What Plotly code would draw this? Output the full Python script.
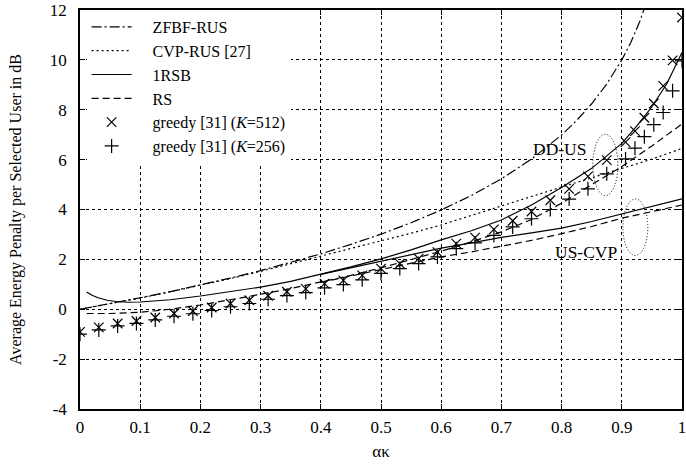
import plotly.graph_objects as go

# ---------------- data ----------------
zfbf_x = [0, 0.05, 0.1, 0.15, 0.2, 0.25, 0.3, 0.35, 0.4, 0.45, 0.5, 0.55, 0.6, 0.65,
          0.7, 0.75, 0.8, 0.825, 0.85, 0.875, 0.9, 0.915, 0.93, 0.945]
zfbf_y = [0, 0.22, 0.46, 0.71, 0.97, 1.25, 1.55, 1.87, 2.22, 2.6, 3.01, 3.47, 3.98, 4.56,
          5.23, 6.02, 6.99, 7.57, 8.24, 9.03, 10.0, 10.7, 11.55, 12.6]

cvp_x = [0, 0.05, 0.1, 0.15, 0.2, 0.25, 0.3, 0.35, 0.4, 0.45, 0.5, 0.55, 0.6, 0.65,
         0.7, 0.75, 0.8, 0.85, 0.9, 0.95, 1.0]
cvp_y = [0, 0.22, 0.45, 0.7, 0.96, 1.23, 1.52, 1.82, 2.12, 2.43, 2.75, 3.05, 3.38, 3.75,
         4.13, 4.52, 4.9, 5.27, 5.63, 6.02, 6.45]

rsb_dd_x = [0.011, 0.02, 0.03, 0.045, 0.06, 0.08, 0.1, 0.15, 0.2, 0.25, 0.3, 0.35, 0.4,
            0.45, 0.5, 0.55, 0.6, 0.65, 0.7, 0.75, 0.8, 0.85, 0.875, 0.9, 0.925, 0.95,
            0.975, 1.0]
rsb_dd_y = [0.69, 0.56, 0.46, 0.36, 0.31, 0.28, 0.29, 0.38, 0.53, 0.7, 0.89, 1.12, 1.4,
            1.7, 2.02, 2.38, 2.78, 3.15, 3.58, 4.18, 4.88, 5.65, 6.15, 6.65, 7.35, 8.12,
            9.05, 10.3]

rsb_us_x = [0.4, 0.45, 0.5, 0.55, 0.6, 0.65, 0.7, 0.75, 0.8, 0.85, 0.9, 0.95, 1.0]
rsb_us_y = [1.4, 1.66, 1.93, 2.2, 2.45, 2.66, 2.88, 3.06, 3.25, 3.52, 3.82, 4.12, 4.43]

rs_dd_x = [0.011, 0.05, 0.1, 0.15, 0.2, 0.25, 0.3, 0.35, 0.4, 0.45, 0.5, 0.55, 0.6, 0.65,
           0.7, 0.75, 0.8, 0.85, 0.9, 0.95, 1.0]
rs_dd_y = [-0.17, -0.17, -0.12, 0.0, 0.17, 0.37, 0.6, 0.83, 1.08, 1.36, 1.66, 1.98, 2.33,
           2.7, 3.1, 3.6, 4.25, 5.0, 5.72, 6.55, 7.43]

rs_us_x = [0.4, 0.45, 0.5, 0.55, 0.6, 0.65, 0.7, 0.75, 0.8, 0.85, 0.9, 0.95, 1.0]
rs_us_y = [1.08, 1.34, 1.6, 1.85, 2.1, 2.3, 2.52, 2.76, 3.03, 3.32, 3.65, 3.92, 4.18]

greedy_x = [0, 0.03125, 0.0625, 0.09375, 0.125, 0.15625, 0.1875, 0.21875, 0.25,
            0.28125, 0.3125, 0.34375, 0.375, 0.40625, 0.4375, 0.46875, 0.5, 0.53125,
            0.5625, 0.59375, 0.625, 0.65625, 0.6875, 0.71875, 0.75, 0.78125, 0.8125,
            0.84375, 0.875, 0.90625, 0.921875, 0.9375, 0.953125, 0.96875, 0.984375, 1.0]
greedy512_y = [-0.91, -0.73, -0.57, -0.47, -0.33, -0.17, -0.07, 0.07, 0.23, 0.36, 0.54,
               0.7, 0.82, 1.03, 1.16, 1.36, 1.63, 1.83, 2.03, 2.29, 2.63, 2.87, 3.2, 3.55,
               3.92, 4.37, 4.83, 5.33, 5.98, 6.7, 7.14, 7.68, 8.25, 8.96, 9.98, 11.7]
greedy256_y = [-1.0, -0.83, -0.67, -0.57, -0.43, -0.28, -0.18, -0.05, 0.1, 0.23, 0.4,
               0.55, 0.67, 0.86, 0.99, 1.18, 1.44, 1.63, 1.83, 2.1, 2.43, 2.66, 2.96, 3.3,
               3.63, 4.0, 4.42, 4.83, 5.43, 6.03, 6.46, 6.92, 7.4, 7.89, 8.76, 9.96]

x_ticks = [0, 0.1, 0.2, 0.3, 0.4, 0.5, 0.6, 0.7, 0.8, 0.9, 1]
x_tick_text = ["0", "0.1", "0.2", "0.3", "0.4", "0.5", "0.6", "0.7", "0.8", "0.9", "1"]
y_ticks = [-4, -2, 0, 2, 4, 6, 8, 10, 12]
y_tick_text = ["-4", "-2", "0", "2", "4", "6", "8", "10", "12"]

# ---------------- figure ----------------
FONT = "Liberation Serif, Times New Roman, serif"
LW = 1.2
PAD = "\u00a0\u00a0\u00a0\u00a0"
fig = go.Figure()

fig.add_trace(go.Scatter(x=zfbf_x, y=zfbf_y, mode="lines", name=PAD + "ZFBF-RUS",
                         line=dict(color="black", width=LW, dash="10px,3px,2px,3px")))
fig.add_trace(go.Scatter(x=cvp_x, y=cvp_y, mode="lines", name=PAD + "CVP-RUS [27]",
                         line=dict(color="black", width=LW, dash="2px,3px")))
fig.add_trace(go.Scatter(x=rsb_dd_x, y=rsb_dd_y, mode="lines", name=PAD + "1RSB",
                         legendgroup="rsb", line=dict(color="black", width=LW)))
fig.add_trace(go.Scatter(x=rs_dd_x, y=rs_dd_y, mode="lines", name=PAD + "RS",
                         legendgroup="rs",
                         line=dict(color="black", width=LW, dash="7px,4px")))
fig.add_trace(go.Scatter(x=greedy_x, y=greedy512_y, mode="markers",
                         name=PAD + "greedy [31] (<i>K</i>=512)",
                         marker=dict(symbol="x-thin", size=9.5, color="black",
                                     line=dict(color="black", width=1.2))))
fig.add_trace(go.Scatter(x=greedy_x, y=greedy256_y, mode="markers",
                         name=PAD + "greedy [31] (<i>K</i>=256)",
                         marker=dict(symbol="cross-thin", size=10, color="black",
                                     line=dict(color="black", width=1.2))))
fig.add_trace(go.Scatter(x=rsb_us_x, y=rsb_us_y, mode="lines", name="1RSB",
                         legendgroup="rsb", showlegend=False,
                         line=dict(color="black", width=LW)))
fig.add_trace(go.Scatter(x=rs_us_x, y=rs_us_y, mode="lines", name="RS",
                         legendgroup="rs", showlegend=False,
                         line=dict(color="black", width=LW, dash="7px,4px")))

# dotted ellipses marking the branches
fig.add_shape(type="circle", xref="x", yref="y", x0=0.852, x1=0.8935, y0=4.56, y1=7.02,
              line=dict(color="black", width=1, dash="1px,2px"))
fig.add_shape(type="circle", xref="x", yref="y", x0=0.9018, x1=0.9432, y0=2.16, y1=4.42,
              line=dict(color="black", width=1, dash="1px,2px"))

fig.add_annotation(x=0.797, y=6.42, text="DD-US", showarrow=False,
                   font=dict(family=FONT, size=17.5, color="black"))
fig.add_annotation(x=0.8415, y=2.28, text="US-CVP", showarrow=False,
                   font=dict(family=FONT, size=17.5, color="black"))

axis_common = dict(showline=True, linecolor="black", linewidth=1.5, mirror="ticks",
                   ticks="inside", ticklen=5, tickcolor="black", tickwidth=1,
                   showgrid=True, gridcolor="black", gridwidth=0.8, griddash="3px,3px",
                   zeroline=False, automargin=False, ticklabeloverflow="allow",
                   tickfont=dict(family=FONT, size=17, color="black"))

fig.update_xaxes(range=[0, 1], tickvals=x_ticks, ticktext=x_tick_text,
                 ticklabelstandoff=2,
                 title=dict(text="ακ", font=dict(family=FONT, size=17, color="black"),
                            standoff=9),
                 **axis_common)
fig.update_yaxes(range=[-4, 12], tickvals=y_ticks, ticktext=y_tick_text,
                 ticklabelstandoff=8,
                 title=dict(text="Average Energy Penalty per Selected User in dB",
                            font=dict(family=FONT, size=16, color="black"), standoff=24),
                 **axis_common)

fig.update_layout(
    width=686, height=471,
    margin=dict(l=80, r=4, t=10, b=62),
    paper_bgcolor="white", plot_bgcolor="white",
    font=dict(family=FONT, size=17, color="black"),
    showlegend=True,
    legend=dict(x=0.011, y=1, xanchor="left", yanchor="top", bgcolor="white",
                borderwidth=0, font=dict(family=FONT, size=16, color="black"),
                tracegroupgap=0, itemwidth=40),
)

fig.write_html("out.html", config={"displayModeBar": False},
               post_script="document.body.style.margin='0';"
                           "document.body.style.overflow='hidden';")
